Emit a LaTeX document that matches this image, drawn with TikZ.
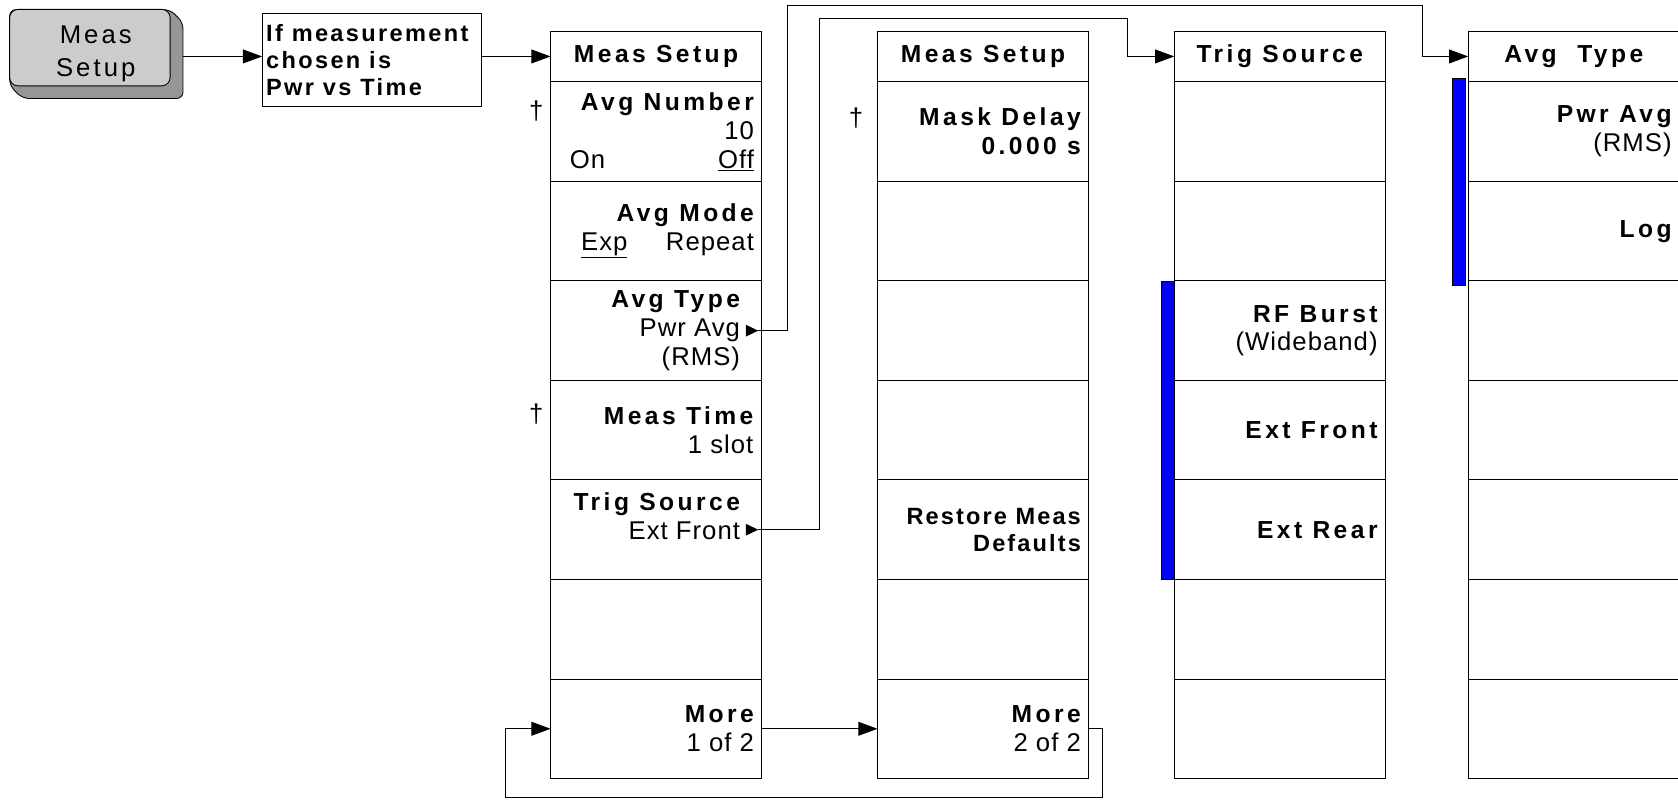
\documentclass[tikz,border=0pt]{standalone}
\usepackage{fontspec}
\setmainfont{Liberation Sans}
\newfontfamily\rgf[LetterSpace=4]{Liberation Sans}
\newfontfamily\bdf[LetterSpace=14]{Liberation Sans}
\newfontfamily\bdfc[LetterSpace=10]{Liberation Sans}
\newfontfamily\bdfr[LetterSpace=9]{Liberation Sans}
\newfontfamily\keyf[LetterSpace=12]{Liberation Sans}
\newcommand\fR{\rgf\fontsize{24}{27}\selectfont}
\newcommand\fB{\bdf\bfseries\fontsize{23}{27}\selectfont}
\newcommand\fBr{\bdfr\bfseries\fontsize{22}{25.6}\selectfont}
\newcommand\fBc{\bdfc\bfseries\fontsize{22}{25}\selectfont}
\newcommand\fKey{\keyf\fontsize{24}{31}\selectfont}
\usetikzlibrary{arrows.meta}
\definecolor{keygray}{RGB}{204,204,204}
\definecolor{keyshade}{RGB}{150,150,150}
\definecolor{barblue}{RGB}{0,0,255}
\begin{document}
\begin{tikzpicture}[x=1pt,y=-1pt,
  cell/.style={draw, line width=0.9pt, minimum width=197.2pt, minimum height=93pt, inner sep=0pt, outer sep=0pt},
  head/.style={cell, minimum height=47.5pt, font=\fB},
  lbl/.style={anchor=east, align=right, inner sep=0pt, font=\fR},
  conn/.style={line width=0.9pt},
  arr/.style={line width=0.9pt, -{Triangle[length=18pt,width=13pt]}},
  bar/.style={fill=barblue, draw=black, line width=0.5pt}]
\useasboundingbox (0,0) rectangle (1568,747);
\clip (0,0) rectangle (1568,747);

% key
\filldraw[fill=keyshade, draw=black, line width=0.8pt, rounded corners=6pt]
  (9,9) -- (159,9) -- (171,21) -- (171,92) -- (21,92) -- (9,80) -- cycle;
\node[draw, fill=keygray, line width=0.8pt, rounded corners=8pt, minimum width=150pt, minimum height=71.5pt, inner sep=0pt] (key) at (84,44.5) {};
\node[font=\fKey, align=center, inner sep=0pt] (keytxt) at (89.5,50) {Meas\\Setup};
\coordinate (keyout) at (171,52.75);

% condition box
\node[draw, line width=0.9pt, minimum width=204pt, minimum height=87pt, inner sep=0pt, anchor=north west] (cond) at (245,12) {};
\node[anchor=west, align=left, inner sep=0pt, font=\fBc] (condtxt) at ([xshift=3.5pt]cond.west) {If measurement\\chosen is\\Pwr vs Time};

% columns
\foreach \c/\lx in {1/514.5,2/820,3/1097.3,4/1372}{
  \foreach \r in {1,...,7}
    \node[cell] (c\c r\r) at (\lx+98.6,{76.5+93*\r-46.5}) {};
}
\node[head] (c1h) at (613.1,52.75) {Meas Setup};
\node[head] (c2h) at (918.6,52.75) {Meas Setup};
\node[head] (c3h) at (1195.9,52.75) {Trig Source};
\node[head] (c4h) at (1470.6,52.75) {Avg\ \ Type};

% blue bars
\draw[bar] (1085.4,262.5) rectangle (1097.3,541.5);
\draw[bar] (1357.4,73.2) rectangle (1369.6,267);

% column 1 labels
\node[lbl] (l11) at ([xshift=-7pt]c1r1.east) {{\fB Avg Number}\\10\\\makebox[172pt]{On\hfill\underline{Off}}};
\node[lbl] (l12) at ([xshift=-7pt]c1r2.east) {{\fB Avg Mode}\\\underline{Exp}\hspace{36pt}Repeat};
\node[lbl] (l13) at ([xshift=-20pt]c1r3.east) {{\fB Avg Type}\\Pwr Avg\\(RMS)};
\node[lbl] (l14) at ([xshift=-7.5pt]c1r4.east) {{\fB Meas Time}\\1 slot};
\node[lbl] (l15) at ([xshift=-20pt,yshift=13pt]c1r5.east) {{\fB Trig Source}\\Ext Front};
\node[lbl] (l17) at ([xshift=-7pt]c1r7.east) {{\fB More}\\1 of 2};

% submenu markers
\fill (697,303.5) -- (708.5,309) -- (697,314.5) -- cycle;
\coordinate (tA) at (708.5,309);
\fill (697,489.5) -- (708.5,495) -- (697,500.5) -- cycle;
\coordinate (tB) at (708.5,495);

% column 2 labels
\node[lbl, font=\fB] (l21) at ([xshift=-7pt]c2r1.east) {Mask Delay\\0.000 s};
\node[lbl, font=\fBr] (l25) at ([xshift=-7pt]c2r5.east) {Restore Meas\\Defaults};
\node[lbl] (l27) at ([xshift=-7pt]c2r7.east) {{\fB More}\\2 of 2};

% column 3 labels
\node[lbl] (l33) at ([xshift=-7pt]c3r3.east) {{\fB RF Burst}\\(Wideband)};
\node[lbl, font=\fB] (l34) at ([xshift=-7pt]c3r4.east) {Ext Front};
\node[lbl, font=\fB] (l35) at ([xshift=-7pt]c3r5.east) {Ext Rear};

% column 4 labels
\node[lbl] (l41) at ([xshift=-7pt]c4r1.east) {{\fB Pwr Avg}\\(RMS)};
\node[lbl, font=\fB] (l42) at ([xshift=-7pt]c4r2.east) {Log};

% daggers
\node[font=\fR, inner sep=0pt] (d1) at (501,104) {†};
\node[font=\fR, inner sep=0pt] (d2) at (501,387) {†};
\node[font=\fR, inner sep=0pt] (d3) at (800,110) {†};

% connectors
\draw[arr] (keyout) -- (keyout -| cond.west);
\draw[arr] (cond.east |- c1h.west) -- (c1h.west);
\draw[arr] (tA) -| (736,5) -| ([xshift=-43pt]c4h.west) -- (c4h.west);
\draw[arr] (tB) -| (765.5,17) -| ([xshift=-44pt]c3h.west) -- (c3h.west);
\draw[arr] (c1r7.east) -- (c2r7.west);
\draw[arr] (c2r7.east) -| (1030,745) -| ([xshift=-42.5pt]c1r7.west) -- (c1r7.west);
\end{tikzpicture}
\end{document}
